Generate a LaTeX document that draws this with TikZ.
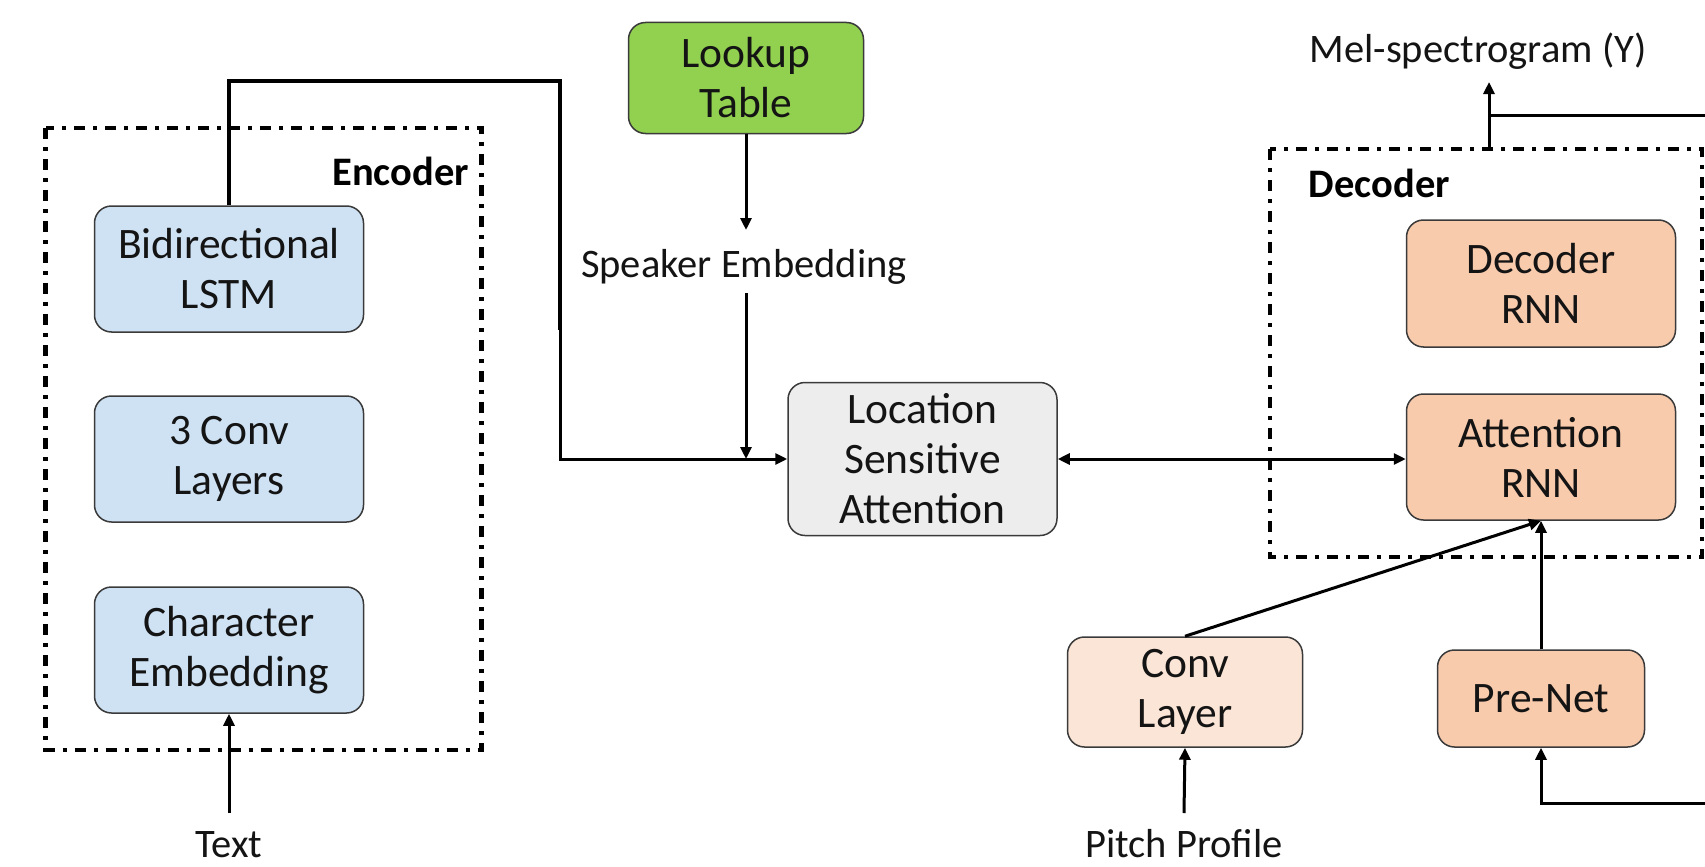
\documentclass[tikz,border=0pt]{standalone}
\usepackage{fontspec}
\setmainfont{Carlito}
\usetikzlibrary{arrows.meta}

\definecolor{encblue}{HTML}{CFE2F3}
\definecolor{lookgreen}{HTML}{92D050}
\definecolor{attgray}{HTML}{EDEDED}
\definecolor{decorange}{HTML}{F8CBAD}
\definecolor{convpeach}{HTML}{FBE5D6}
\definecolor{boxline}{HTML}{3A3A3A}
\definecolor{ink}{HTML}{141414}

\newcommand\boxfont{\fontsize{43.5pt}{50pt}\selectfont}
\newcommand\lblfont{\fontsize{40.5pt}{47pt}\selectfont}

\begin{document}
\begin{tikzpicture}[x=1pt, y=-1pt,
  block/.style={draw=boxline, line width=1.5pt, rounded corners=17pt,
    align=center, inner sep=0pt, font=\boxfont, text=ink},
  wide/.style={minimum width=269pt},
  lbl/.style={font=\lblfont, text=ink, inner sep=0pt, anchor=base},
  grouplbl/.style={font=\lblfont\bfseries, text=black, inner sep=0pt},
  group/.style={draw=black, line width=4.5pt,
    dash pattern=on 11pt off 8pt on 4pt off 8pt},
  conn/.style={draw=black, line width=3pt},
  arr/.style={conn, -{Triangle[length=12pt,width=11pt]}},
  biarr/.style={conn, {Triangle[length=12pt,width=11pt]}-{Triangle[length=12pt,width=11pt]}},
  heavy/.style={draw=black, line width=3.8pt, line join=miter}]

\useasboundingbox (0,0) rectangle (1705,867);

% group frames
\draw[group] (45.7,128) rectangle (481.7,750);
\draw[group] (1270,149) rectangle (1702,557);
\node[grouplbl, anchor=base east] (enclbl) at (469,185) {Encoder};
\node[grouplbl, anchor=base west] (declbl) at (1308.6,197) {Decoder};

% encoder blocks
\node[block, wide, fill=encblue, minimum height=126pt] (bilstm) at (229,269) {Bidirectional\\LSTM};
\node[block, wide, fill=encblue, minimum height=126pt] (conv3) at (229,459) {3 Conv\\Layers};
\node[block, wide, fill=encblue, minimum height=126pt] (charemb) at (229,650) {Character\\Embedding};

% speaker branch
\node[block, fill=lookgreen, minimum width=235pt, minimum height=111pt] (lookup) at (746,78) {Lookup\\Table};
\node[lbl] (spk) at (744,277) {Speaker Embedding};

% attention
\node[block, wide, fill=attgray, minimum height=153pt] (loc) at (922.5,459) {Location\\Sensitive\\Attention};

% decoder blocks
\node[block, wide, fill=decorange, minimum height=127pt] (decrnn) at (1541,283.5) {Decoder\\RNN};
\node[block, wide, fill=decorange, minimum height=126pt] (attrnn) at (1541,457) {Attention\\RNN};
\node[block, fill=convpeach, minimum width=235pt, minimum height=110pt] (convl) at (1185,692) {Conv\\Layer};
\node[block, fill=decorange, minimum width=207pt, minimum height=97pt] (prenet) at (1541,698.5) {Pre-Net};

% inputs / outputs
\node[lbl] (txt) at (229,857) {Text};
\node[lbl] (pitch) at (1184,857) {Pitch Profile};
\node[lbl] (mel) at (1478,63) {Mel-spectrogram (Y)};

% helper points
\coordinate (encUp) at (229,81);
\coordinate (encCorner) at (560,81);
\coordinate (encMid) at (560,330);
\coordinate (spkIn) at (746,230);
\coordinate (spkOut) at (746,293);
\coordinate (txtIn) at (229,813);
\coordinate (pitchIn) at (1184,813);
\coordinate (melTop) at (1489,149);
\coordinate (melTip) at (1489,82);
\coordinate (melBranch) at (1489,115);
\coordinate (melEdge) at (1705,115);
\coordinate (fbEdge) at (1705,803);

% encoder output to attention
\draw[heavy] (bilstm.north) -- (encUp) -- (encCorner) -- (encMid);
\draw[arr] (encMid) -- (encMid |- loc.west) -- (loc.west);

% speaker embedding
\draw[arr] (lookup.south) -- (spkIn);
\draw[arr] (spkOut) -- (spkOut |- loc.west);

% attention <-> decoder
\draw[biarr] (loc.east) -- (loc.east -| attrnn.west);

% inputs
\draw[arr] (txtIn) -- (charemb.south);
\draw[arr] (pitchIn) -- (convl.south);
\draw[arr] (convl.north) -- (attrnn.south);
\draw[arr] (prenet.north) -- (attrnn.south);
\draw[arr] (fbEdge) -| (prenet.south);

% output
\draw[arr] (melTop) -- (melTip);
\draw[conn] (melBranch) -- (melEdge);

\end{tikzpicture}
\end{document}
